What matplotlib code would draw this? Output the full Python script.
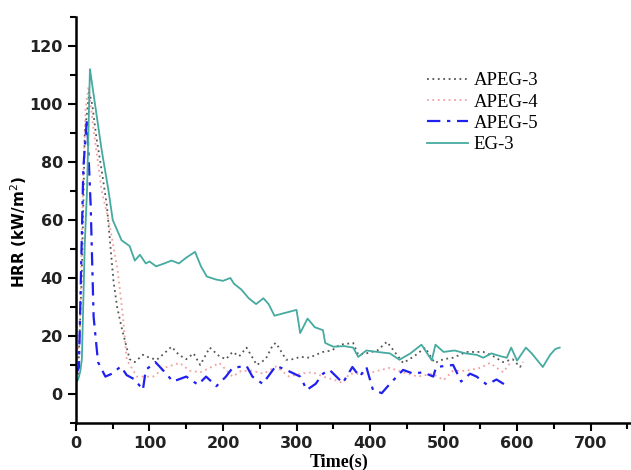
import numpy as np
import matplotlib
matplotlib.use("Agg")
import matplotlib.pyplot as plt
from matplotlib.ticker import MultipleLocator

# APEG-3 (grey dotted)
t_apeg3 = [0, 3, 8, 12, 18, 22, 28, 35, 42, 51, 56, 62, 73, 80, 91, 100, 110, 120, 130, 140, 150, 160,
           169, 182, 195, 204, 213, 222, 232, 246, 258, 268, 272, 286, 295, 305, 318, 326, 336, 348, 359,
           377, 384, 395, 410, 423, 435, 445, 460, 475, 488, 500, 513, 531, 554, 568, 581, 594, 604, 608]
v_apeg3 = [5, 7, 42, 90, 104, 100, 88, 77, 65, 39, 30, 23, 12, 11, 13.5, 12.5, 11.8, 14, 16.3, 13.5,
           12, 14, 10, 16, 13, 12, 14.5, 13, 16, 10, 12, 17, 17.6, 11.8, 12, 12.8, 12.5, 13.5, 14.5, 15, 17,
           17.6, 13.5, 14, 15, 18, 14, 10.7, 13, 16, 10.7, 12, 12.5, 14.5, 14.5, 13, 11, 12, 9.3, 11]

# APEG-4 (pink dotted)
t_apeg4 = [0, 5, 10, 13, 17, 24, 35, 46, 57, 64, 69, 83, 95, 105, 120, 141, 155, 169, 182, 195, 213,
           225, 240, 255, 272, 290, 305, 322, 336, 350, 363, 372, 396, 410, 427, 445, 465, 485, 500, 513,
           530, 550, 563, 581, 590]
v_apeg4 = [10, 19, 76, 98, 106, 91, 70, 58, 42, 26.6, 11.8, 6, 6, 6, 9, 10.7, 8, 7.5, 9, 10.7, 6,
           8, 8, 7, 9.5, 6, 7, 7.5, 6, 5, 3.8, 7, 7, 8, 9, 7.5, 6, 7, 4.8, 8, 8, 9, 10.7, 7.5, 10.5]

# APEG-5 (blue dash-dot)
t_apeg5 = [0, 4, 10, 15, 20, 24, 30, 40, 49, 61, 69, 80, 91, 95, 108, 118, 132, 150, 166, 177,
           191, 204, 213, 232, 240, 254, 272, 286, 305, 314, 326, 336, 345, 363, 376, 386, 395, 404, 416,
           427, 445, 459, 472, 486, 490, 513, 524, 536, 545, 559, 572, 588]
v_apeg5 = [7, 9, 78, 95, 65, 26.6, 11, 6, 7, 9.5, 6.5, 5, 1.4, 8.3, 11, 8.3, 4.3, 6, 3.2, 6,
           2.7, 6, 9, 9.7, 6, 3.5, 9.7, 8.3, 6, 1.4, 3.5, 7, 8.3, 3.8, 9.3, 6, 9.3, 1.4, 0.3, 3.5, 8.3, 7,
           7.5, 6, 9.3, 10, 4.3, 7, 6, 3.2, 5, 2.5]

# EG-3 (teal solid)
t_eg3 = [0, 3, 6, 8, 12, 15, 19, 23, 35, 44, 50, 62, 73, 80, 87, 95, 100, 109, 120, 130, 140, 150,
         162, 170, 178, 190, 200, 210, 215, 225, 235, 245, 255, 262, 270, 285, 300, 305, 315, 325, 336,
         339, 350, 365, 377, 384, 395, 410, 427, 440, 455, 470, 484, 489, 500, 515, 530, 545, 554, 565,
         578, 586, 592, 600, 612, 620, 635, 645, 652, 658]
v_eg3 = [4, 5, 8, 12, 52, 70, 112, 105, 84, 70.5, 60, 53, 51, 46, 48, 45, 45.7, 44, 45, 46, 45, 47,
         49, 44, 40.5, 39.5, 39, 40, 38, 36, 33, 31, 33, 31, 27, 28, 29, 21, 26, 23, 22, 17.6, 16.3, 16.5,
         16, 12.8, 15, 14.5, 14, 11.8, 14, 17, 11.6, 17, 14.5, 15, 14, 13.5, 12.5, 14, 13, 12.5, 16, 11.5,
         16, 14, 9.3, 13.5, 15.5, 16]

fig = plt.figure(figsize=(6.31, 4.70), dpi=100)
ax = fig.add_axes([0.1204, 0.1, 0.8796, 0.864])

ax.plot(t_apeg3, v_apeg3, color="#555555", linestyle=(0, (1, 2)), linewidth=1.3, label="APEG-3")
ax.plot(t_apeg4, v_apeg4, color="#f4a0a0", linestyle=(0, (1, 2)), linewidth=1.3, label="APEG-4")
ax.plot(t_apeg5, v_apeg5, color="#2020f0", linestyle=(0, (6, 3, 1.5, 3)), linewidth=1.6, label="APEG-5")
ax.plot(t_eg3, v_eg3, color="#45aaa0", linestyle="-", linewidth=1.3, label="EG-3")

ax.set_xlim(0, 755)
ax.set_ylim(-10, 130)
ax.xaxis.set_major_locator(MultipleLocator(100))
ax.xaxis.set_minor_locator(MultipleLocator(50))
ax.yaxis.set_major_locator(MultipleLocator(20))
ax.yaxis.set_minor_locator(MultipleLocator(10))
ax.tick_params(which="both", direction="out", width=1.5)
ax.tick_params(which="major", length=6)
ax.tick_params(which="minor", length=4.5)
for lbl in ax.get_xticklabels() + ax.get_yticklabels():
    lbl.set_fontweight("bold")
    lbl.set_fontsize(11.5)
    lbl.set_color("#222222")

ax.spines["top"].set_visible(False)
ax.spines["right"].set_visible(False)
ax.spines["left"].set_linewidth(1.8)
ax.spines["bottom"].set_linewidth(1.8)

ax.set_ylabel("HRR (kW/m$^2$)", fontsize=11, fontweight="bold")
ax.yaxis.set_label_coords(-0.085, 0.47)
ax.set_xlabel("Time(s)", fontsize=13, fontweight="bold", family="Liberation Serif")
ax.xaxis.set_label_coords(0.474, -0.075)

ax.legend(loc="upper left", bbox_to_anchor=(0.602, 0.905), frameon=False,
          prop={"family": "Liberation Serif", "size": 13.5}, handlelength=2.2,
          handletextpad=0.3, labelspacing=0.22)

fig.savefig("out.png", dpi=100)
